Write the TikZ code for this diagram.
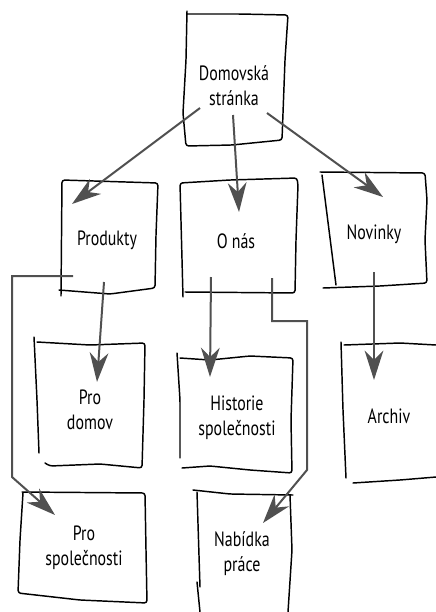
\documentclass[tikz,border=0pt]{standalone}
\usepackage{fontspec}
\setmainfont{PT Sans}[FakeStretch=0.77]
\usetikzlibrary{arrows.meta}
\definecolor{arrowgray}{RGB}{80,80,80}

\begin{document}
\begin{tikzpicture}[x=0.75pt,y=-0.75pt,
	sketch/.style={line width=1.1pt, line cap=round, line join=round, rounded corners=2pt},
	link/.style={draw=arrowgray, line width=1.5pt, -{Stealth[length=22pt,width=14pt,inset=7pt]}},
	page/.style={font=\fontsize{15.5}{18.8}\selectfont, align=center, inner sep=0pt}]
	\useasboundingbox (0,0) rectangle (436,612);
	
	% hand drawn boxes
	\draw[sketch] (187,11) -- (186,60) -- (183,113) -- (186,146) -- (232,145) -- (282,140) -- (285,60) -- (288,15) -- (240,14) -- (187,14);
	\draw[sketch] (61,296) -- (62,180) -- (158,183) -- (156,235) -- (155,288) -- (110,294) -- (59,290);
	\draw[sketch] (183,297) -- (180,183) -- (230,180) -- (297,178) -- (298,185) -- (296,240) -- (295,293) -- (185,292);
	\draw[sketch] (320,172) -- (425,173) -- (427,200) -- (425,240) -- (427,283) -- (380,286) -- (323,288);
	\draw[sketch] (322,175) -- (336,285);
	
	\draw[sketch] (34,337) -- (37,400) -- (39,453);
	\draw[sketch] (37,342) -- (90,345) -- (145,343) -- (144,400) -- (142,468) -- (100,464) -- (50,466) -- (45,463);
	\draw[sketch] (177,353) -- (180,400) -- (180,458);
	\draw[sketch] (180,358) -- (210,360) -- (250,356) -- (293,358) -- (291,420) -- (292,473) -- (250,470) -- (210,466) -- (182,468);
	\draw[sketch] (341,342) -- (343,410) -- (346,478);
	\draw[sketch] (344,345) -- (400,343) -- (436,345);
	\draw[sketch] (353,483) -- (400,480) -- (436,477);
	
	\draw[sketch] (23,493) -- (20,540) -- (18,593) -- (80,600) -- (147,603) -- (146,550) -- (145,493) -- (22,492);
	\draw[sketch] (197,492) -- (200,587);
	\draw[sketch] (197,582) -- (200,612);
	\draw[sketch] (193,490) -- (230,494) -- (293,495);
	\draw[sketch] (290,495) -- (292,550) -- (288,612);
	
	% pages
	\node[page] (dom) at (234,86) {Domovská\\stránka};
	\node[page] (prod) at (107,240) {Produkty};
	\node[page] (onas) at (236,241) {O nás};
	\node[page] (nov) at (374,234) {Novinky};
	\node[page] (prodomov) at (90,410) {Pro\\domov};
	\node[page] (hist) at (237,418) {Historie\\společnosti};
	\node[page] (arch) at (389,416) {Archiv};
	\node[page] (prospol) at (84,548) {Pro\\společnosti};
	\node[page] (nab) at (242,554) {Nabídka\\práce};
	
	% arrow ends
	\coordinate (dom-l) at (200,108);
	\coordinate (dom-m) at (233,115);
	\coordinate (dom-r) at (267,113);
	\coordinate (prod-a) at (104,282);
	\coordinate (prod-b) at (73,276);
	\coordinate (onas-a) at (211,277);
	\coordinate (onas-b) at (272,278);
	\coordinate (nov-a) at (374,272);
	\coordinate (prod-in) at (72,204);
	\coordinate (onas-in) at (239,212);
	\coordinate (nov-in) at (383,197);
	\coordinate (prodomov-in) at (97,382);
	\coordinate (hist-in) at (210,377);
	\coordinate (arch-in) at (374,380);
	\coordinate (prospol-in) at (55,515);
	\coordinate (nab-in) at (263,523);
	
	\draw[link] (dom-l) -- (prod-in);
	\draw[link] (dom-m) -- (onas-in);
	\draw[link] (dom-r) -- (nov-in);
	\draw[link] (prod-a) -- (prodomov-in);
	\draw[link] (prod-b) -- (12,276) -- (12,477) -- (prospol-in);
	\draw[link] (onas-a) -- (hist-in);
	\draw[link] (onas-b) -- (272,321) -- (307,321) -- (307,470) -- (nab-in);
	\draw[link] (nov-a) -- (arch-in);
\end{tikzpicture}
\end{document}
